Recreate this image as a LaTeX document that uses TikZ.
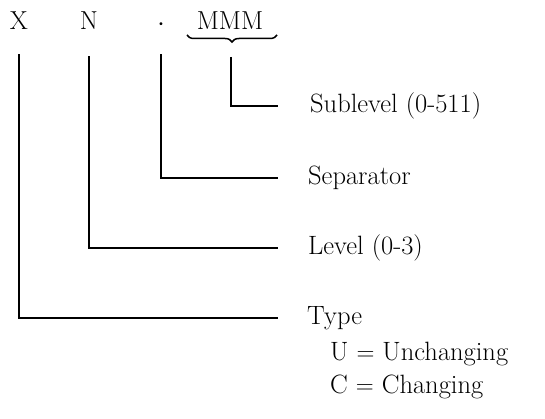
\documentclass[tikz,border=0pt]{standalone}
\usepackage{fontspec}
\usetikzlibrary{decorations.pathreplacing}
\tikzset{
	field/.style={anchor=base, inner sep=2pt, font=\fontsize{26}{30}\selectfont},
	label/.style={anchor=west, inner sep=0pt, font=\fontsize{26.5}{30}\selectfont},
	lead/.style={draw, line width=1.8pt}
}

\begin{document}
\begin{tikzpicture}[x=1pt, y=-1pt]
	\useasboundingbox (0,0) rectangle (545,419);
	% the code fields
	\node[field] (x) at (19,30) {X};
	\node[field] (n) at (89,30) {N};
	\node[field] (dot) at (161,37) {{\fontsize{36}{36}\selectfont\textperiodcentered}};
	\node[field] (m) at (230,30) {MMM};
	\draw[line width=1.5pt, decorate, decoration={brace, mirror, amplitude=7pt}] (187,35) -- (277,35);
	\coordinate (mtip) at (231,45);
	% the meanings
	\node[label] (sub) at (310,106) {Sublevel (0-511)};
	\node[label] (sep) at (308,178) {Separator};
	\node[label] (lev) at (308,248) {Level (0-3)};
	\node[label] (type) at (307,318) {Type};
	\node[label] (u) at (330,354) {U $=$ Unchanging};
	\node[label] (c) at (330,387) {C $=$ Changing};
	% leaders
	\draw[lead] ([yshift=-12pt]mtip) |- ([xshift=-32pt]sub.west);
	\draw[lead] ([yshift=-15pt]dot.south) |- ([xshift=-30pt]sep.west);
	\draw[lead] ([yshift=-24pt]n.south) |- ([xshift=-30pt]lev.west);
	\draw[lead] ([yshift=-22pt]x.south) |- ([xshift=-29pt]type.west);
\end{tikzpicture}
\end{document}
